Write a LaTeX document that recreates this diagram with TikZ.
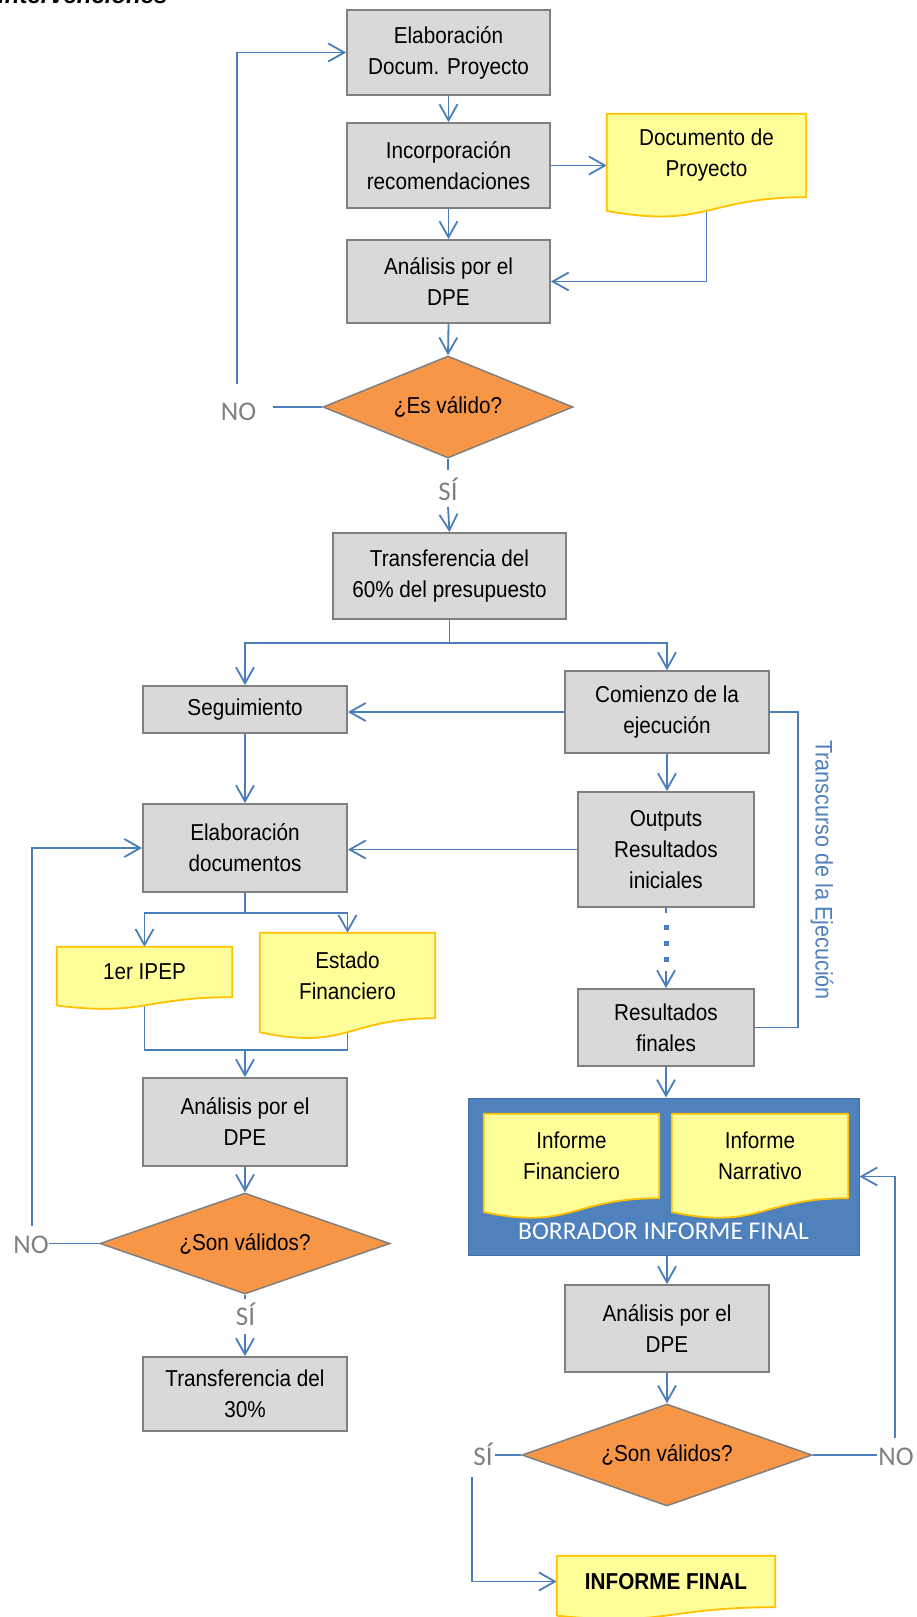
\documentclass[tikz,border=0pt]{standalone}
\usepackage{fontspec}
\setmainfont{Liberation Sans}[FakeStretch=0.9]
\newfontfamily\calfont{Carlito}
\newfontfamily\ttlfont{Liberation Sans}
\usetikzlibrary{arrows.meta,shapes.geometric,calc}
\pgfdeclarelayer{bg}
\pgfdeclarelayer{mid}
\pgfsetlayers{bg,mid,main}
\definecolor{lineblue}{RGB}{74,126,187}
\definecolor{boxfill}{RGB}{217,217,217}
\definecolor{boxgray}{RGB}{128,128,128}
\definecolor{decfill}{RGB}{247,150,70}
\definecolor{docfill}{RGB}{255,255,153}
\definecolor{docgold}{RGB}{255,192,0}
\definecolor{frameblue}{RGB}{79,129,189}
\definecolor{labgray}{RGB}{128,128,128}
\newcommand\docshape[1]{%
  \begin{pgfonlayer}{mid}
  \draw[docedge] (#1.north west) -- (#1.north east) -- (#1.south east)
    .. controls (#1.south) and ($(#1.north)!1.381!(#1.south)$) ..
    ($(#1.north west)!1.1646!(#1.south west)$) -- cycle;
  \end{pgfonlayer}}
\begin{document}
\begin{tikzpicture}[x=1pt,y=-1pt,
  txt/.style={font=\fontsize{23}{31}\selectfont, align=center},
  box/.style={txt, rectangle, draw=boxgray, fill=boxfill, line width=1.8pt, inner sep=0pt},
  dec/.style={txt, diamond, draw=boxgray, fill=decfill, line width=1.5pt, inner sep=0pt},
  doc/.style={txt, rectangle, inner sep=0pt},
  docedge/.style={draw=docgold, fill=docfill, line width=1.8pt, line join=round},
  flow/.style={draw=lineblue, line width=1.8pt},
  arr/.style={flow, -{Straight Barb[length=16pt,width=18pt]}},
  lbl/.style={text=labgray, font=\calfont\fontsize{27}{27}\selectfont, inner sep=0pt, anchor=base},
]
\useasboundingbox (0,0) rectangle (916,1617);
\begin{pgfonlayer}{bg}
  \fill[white] (0,0) rectangle (916,1617);
  \node[fill=frameblue, draw=frameblue!85!black, line width=1pt, minimum width=391pt, minimum height=157pt, inner sep=0pt] (Frame) at (663.5,1176.5) {};
\end{pgfonlayer}

% title (cut off at the top)
\node[anchor=base west, inner sep=0pt, font=\ttlfont\bfseries\itshape\fontsize{24}{24}\selectfont] (ttl) at (-2,3) {intervenciones};

% top column
\node[box, minimum width=203pt, minimum height=85pt] (A) at (448.5,52.5) {Elaboración\\Docum. Proyecto};
\node[box, minimum width=203pt, minimum height=85pt] (B) at (448.5,165.5) {Incorporación\\recomendaciones};
\node[box, minimum width=203pt, minimum height=83pt] (C) at (448.5,281.5) {Análisis por el\\DPE};
\node[doc, minimum width=199pt, minimum height=83pt] (Doc1) at (706.5,155.5) {Documento de\\Proyecto};
\docshape{Doc1}
\node[dec, minimum width=250pt, minimum height=102pt, aspect=2.45] (D1) at (448,407) {¿Es válido?};
\node[box, minimum width=233pt, minimum height=86pt] (D) at (449.5,576) {Transferencia del\\60\% del presupuesto};

% left column
\node[box, minimum width=204pt, minimum height=47pt] (Seg) at (245,709.5) {Seguimiento};
\node[box, minimum width=204pt, minimum height=88pt] (ElabD) at (245,848) {Elaboración\\documentos};
\node[doc, minimum width=175pt, minimum height=50pt] (IPEP) at (144.5,972) {1er IPEP};
\docshape{IPEP}
\node[doc, minimum width=175pt, minimum height=85pt] (EstF) at (347.5,975.5) {Estado\\Financiero};
\docshape{EstF}
\node[box, minimum width=204pt, minimum height=88pt] (AnL) at (245,1122) {Análisis por el\\DPE};
\node[dec, minimum width=290pt, minimum height=101pt, aspect=2.87] (D2) at (245,1243.5) {¿Son válidos?};
\node[box, minimum width=204pt, minimum height=74pt] (T30) at (245,1394) {Transferencia del\\30\%};

% right column
\node[box, minimum width=204pt, minimum height=82pt] (Com) at (667,712) {Comienzo de la\\ejecución};
\node[box, minimum width=176pt, minimum height=115pt] (Out) at (666,849.5) {Outputs\\Resultados\\iniciales};
\node[box, minimum width=176pt, minimum height=77pt] (Res) at (666,1027.5) {Resultados\\finales};
\node[rotate=-90, text=frameblue, font=\fontsize{24}{24}\selectfont, inner sep=0pt] (Trans) at (822,870) {Transcurso de la Ejecución};
\node[doc, minimum width=175pt, minimum height=84pt] (InfF) at (571.5,1156) {Informe\\Financiero};
\docshape{InfF}
\node[doc, minimum width=176pt, minimum height=84pt] (InfN) at (760,1156) {Informe\\Narrativo};
\docshape{InfN}
\node[text=white, font=\calfont\fontsize{25.5}{26}\selectfont, inner sep=0pt] (Borr) at (663.5,1231) {BORRADOR INFORME FINAL};
\node[box, minimum width=204pt, minimum height=87pt] (AnR) at (667,1328.5) {Análisis por el\\DPE};
\node[dec, minimum width=290pt, minimum height=102pt, aspect=2.84] (D3) at (667,1455) {¿Son válidos?};
\node[doc, minimum width=218pt, minimum height=51pt, font=\bfseries\fontsize{23}{31}\selectfont] (IF) at (666,1581.5) {INFORME FINAL};
\docshape{IF}

% labels
\node[lbl] (NO1) at (238.5,420) {NO};
\node[lbl] (SI1) at (448,500) {SÍ};
\node[lbl] (NO2) at (31,1253) {NO};
\node[lbl] (SI2) at (245.5,1325) {SÍ};
\node[lbl] (SI3) at (483,1465) {SÍ};
\node[lbl] (NO3) at (896,1465) {NO};

% free ends of connectors
\coordinate (no1a) at (273,407);
\coordinate (no1t) at (237,384);
\coordinate (si1a) at (448,470);
\coordinate (si1b) at (448,507);
\coordinate (split1) at (449.5,643);
\coordinate (trx) at (798,870);
\coordinate (dt0) at (666,913);
\coordinate (dt1) at (666,924.5);
\coordinate (dt2) at (666,965);
\coordinate (dt3) at (666,971);
\coordinate (split2) at (245,913);
\coordinate (join2) at (245,1050);
\coordinate (no2a) at (49,1243.5);
\coordinate (no2t) at (32,1226);
\coordinate (si2a) at (245,1299);
\coordinate (si2b) at (245,1334);
\coordinate (no3a) at (877,1455);
\coordinate (no3t) at (895,1438);
\coordinate (si3a) at (495,1455);
\coordinate (si3b) at (472,1477);

\begin{pgfonlayer}{bg}
  \draw[arr] (A.south) -- (B.north);
  \draw[arr] (B.east) -- (B.east -| Doc1.west);
  \draw[arr] (Doc1.south) |- (C.east);
  \draw[arr] (B.south) -- (C.north);
  \draw[arr] (C.south) -- (D1.north);
  \draw[flow] (D1.west) -- (no1a);
  \draw[arr] (no1t) |- (A.west);
  \draw[flow] (D1.south) -- (si1a);
  \draw[arr] (si1b) -- (D.north);
  \draw[flow] (D.south) -- (split1);
  \draw[arr] (split1) -| (Seg.north);
  \draw[arr] (split1) -| (Com.north);
  \draw[arr] (Com.west) -- (Com.west -| Seg.east);
  \draw[flow] (Com.east) -| (trx) |- (Res.east);
  \draw[arr] (Com.south) -- (Com.south |- Out.north);
  \draw[flow] (Out.south) -- (dt0);
  \draw[lineblue, line width=5pt, dash pattern=on 5pt off 11pt] (dt1) -- (dt2);
  \draw[arr] (dt3) -- (Res.north);
  \draw[arr] (Out.west) -- (Out.west -| ElabD.east);
  \draw[arr] (Seg.south) -- (ElabD.north);
  \draw[flow] (ElabD.south) -- (split2);
  \draw[arr] (split2) -| (IPEP.north);
  \draw[arr] (split2) -| (EstF.north);
  \draw[flow] (IPEP.south) |- (join2) -| (EstF.south);
  \draw[arr] (join2) -- (AnL.north);
  \draw[arr] (AnL.south) -- (D2.north);
  \draw[flow] (D2.west) -- (no2a);
  \draw[arr] (no2t) |- (ElabD.west);
  \draw[flow] (D2.south) -- (si2a);
  \draw[arr] (si2b) -- (T30.north);
  \draw[arr] (Res.south) -- (Res.south |- Frame.north);
  \draw[arr] (Frame.south -| AnR.north) -- (AnR.north);
  \draw[arr] (AnR.south) -- (D3.north);
  \draw[flow] (D3.east) -- (no3a);
  \draw[arr] (no3t) |- (Frame.east);
  \draw[flow] (D3.west) -- (si3a);
  \draw[arr] (si3b) |- (IF.west);
\end{pgfonlayer}
\end{tikzpicture}
\end{document}
